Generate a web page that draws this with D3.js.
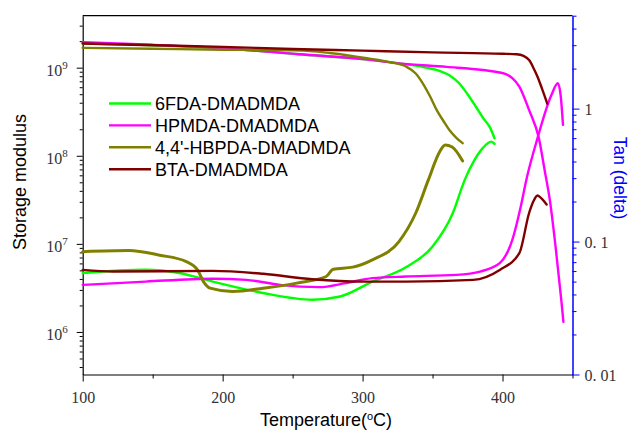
<!DOCTYPE html>
<html>
<head>
<meta charset="utf-8">
<script src="https://cdn.jsdelivr.net/npm/d3@7"></script>
<style>
  body { margin: 0; background: #fff; }
  .tick text { font-family: "Liberation Serif", serif; font-size: 16px; fill: #333; }
</style>
</head>
<body>
<div id="chart"></div>
<script>
const width = 631;
const height = 433;

// series names and colours (legend order)
const names = ['6FDA-DMADMDA', 'HPMDA-DMADMDA', "4,4'-HBPDA-DMADMDA", 'BTA-DMADMDA'];
const colors = ['#00ff00', '#ff00ff', '#808000', '#800000'];

// storage modulus (Pa) vs temperature (°C)
const modulus6FDA = [[100,1.88e9],[150,1.8e9],[200,1.66e9],[255,1.42e9],[300,1.25e9],[326,1.12e9],[340,1.04e9],[355,9.2e8],[362,8.2e8],[369,6.65e8],[375,5e8],[381,3.6e8],[386,2.7e8],[391,2.1e8],[394.3,1.58e8]];
const modulusHPMDA = [[100,1.95e9],[150,1.82e9],[200,1.66e9],[255,1.42e9],[300,1.25e9],[326,1.12e9],[360,1.02e9],[386,9.4e8],[402,8.5e8],[407,7.6e8],[412,6.1e8],[419,3.3e8],[426,1.58e8],[430,7e7],[434,3.0e7],[438,9e6],[442,2.3e6],[443.5,1.3e6]];
const modulusHBPDA = [[100,1.68e9],[150,1.64e9],[200,1.6e9],[250,1.57e9],[265,1.53e9],[278,1.46e9],[303,1.28e9],[320,1.15e9],[331,1.03e9],[338,8.6e8],[343,6.65e8],[348,4.8e8],[353,3.3e8],[358,2.45e8],[362,1.96e8],[367,1.6e8],[371.5,1.39e8]];
const modulusBTA = [[100,1.88e9],[150,1.8e9],[200,1.72e9],[250,1.63e9],[300,1.56e9],[350,1.49e9],[400,1.44e9],[410,1.42e9],[415,1.36e9],[419,1.22e9],[422,1.0e9],[425,7.9e8],[428,5.9e8],[432,3.9e8]];

// tan(delta) vs temperature (°C)
const tan6FDA = [[100,0.058],[145,0.0613],[169,0.058],[193,0.05],[229,0.041],[264,0.0365],[284,0.0386],[307,0.05],[331,0.0642],[350,0.0917],[364.5,0.164],[373,0.291],[380,0.411],[386,0.507],[392,0.565],[394.3,0.543]];
const tanHPMDA = [[100,0.0472],[145,0.05],[193,0.0525],[217,0.0515],[241,0.0472],[269,0.0454],[288,0.0487],[307,0.0531],[331,0.0546],[367,0.0562],[384,0.0595],[398,0.0688],[407,0.103],[413,0.183],[417,0.291],[425,0.6],[435,1.27],[439.5,1.55],[441.5,1.27],[443.2,0.754]];
const tanHBPDA = [[100,0.084],[133,0.0856],[155,0.079],[174,0.0707],[182,0.0613],[187,0.0487],[191,0.0446],[207,0.0421],[229,0.0446],[253,0.0487],[274,0.0546],[279,0.062],[293,0.0642],[307,0.0728],[326,0.1],[338,0.164],[347,0.291],[355,0.472],[359,0.533],[364,0.515],[371.5,0.404]];
const tanBTA = [[100,0.0612],[122,0.0595],[193,0.0602],[229,0.0572],[264,0.0521],[300,0.05],[331,0.05],[379,0.0515],[398,0.0612],[412,0.0818],[419,0.164],[422,0.2],[425,0.222],[428,0.21],[431.5,0.19]];

const xTicks = [100, 200, 300, 400];
const xMinor = [150, 250, 350, 450];
const leftTicks = [1e6, 1e7, 1e8, 1e9];
const rightTicks = [0.01, 0.1, 1];
const rightLabels = ['0. 01', '0. 1', '1'];

const modulusSeries = [modulus6FDA, modulusHPMDA, modulusHBPDA, modulusBTA];
const tanSeries = [tan6FDA, tanHPMDA, tanHBPDA, tanBTA];

const plot = { left: 82.7, right: 572.5, top: 15.7, bottom: 374.5 };

const svg = d3.select('#chart')
  .append('svg')
  .attr('width', width)
  .attr('height', height);

const x = d3.scaleLinear().domain([100, 450]).range([plot.left, plot.right]);
const yL = d3.scaleLog().domain([3.29e5, 3.89e9]).range([plot.bottom, plot.top]);
const yR = d3.scaleLog().domain([0.01, 5]).range([plot.bottom, plot.top]);

// minor tick values for log axes
function logMinors(scale) {
  const [a, b] = scale.domain();
  const out = [];
  for (let e = Math.floor(Math.log10(a)); e <= Math.ceil(Math.log10(b)); e++) {
    for (let m = 2; m <= 9; m++) {
      const v = m * Math.pow(10, e);
      if (v >= a * 0.999 && v <= b * 1.001) out.push(v);
    }
  }
  return out;
}

// top frame line
svg.append('line')
  .attr('x1', plot.left).attr('x2', plot.right)
  .attr('y1', plot.top).attr('y2', plot.top)
  .attr('stroke', '#000').attr('stroke-width', 1.2);

// bottom axis
const gx = svg.append('g').attr('transform', `translate(0,${plot.bottom})`);
gx.call(d3.axisBottom(x).tickValues(xTicks).tickSize(7).tickSizeOuter(0).tickFormat(d3.format('d')));
gx.selectAll('.tick text').attr('y', 17);
svg.append('g').attr('transform', `translate(0,${plot.bottom})`)
  .call(d3.axisBottom(x).tickValues(xMinor).tickSize(4).tickFormat(''))
  .call(g => g.select('.domain').remove());

// left axis
const gl = svg.append('g').attr('transform', `translate(${plot.left},0)`);
gl.call(d3.axisLeft(yL).tickValues(leftTicks).tickSize(6).tickSizeOuter(0).tickFormat(''));
gl.selectAll('.tick')
  .append('text')
  .attr('x', -15)
  .attr('y', 8)
  .attr('text-anchor', 'end')
  .each(function (d) {
    const t = d3.select(this);
    t.append('tspan').text('10');
    t.append('tspan').attr('dy', -7).style('font-size', '11px').text(Math.round(Math.log10(d)));
  });
svg.append('g').attr('transform', `translate(${plot.left},0)`)
  .call(d3.axisLeft(yL).tickValues(logMinors(yL)).tickSize(3).tickFormat(''))
  .call(g => g.select('.domain').remove());

// right axis (blue)
const gr = svg.append('g').attr('transform', `translate(${plot.right},0)`);
gr.call(d3.axisRight(yR).tickValues(rightTicks).tickSize(7).tickSizeOuter(0)
  .tickFormat((d, i) => rightLabels[i]));
gr.selectAll('.tick text').attr('x', 12).attr('dy', '0.38em');
svg.append('g').attr('transform', `translate(${plot.right},0)`)
  .call(d3.axisRight(yR).tickValues(logMinors(yR)).tickSize(4).tickFormat(''))
  .call(g => g.select('.domain').remove())
  .selectAll('line').attr('stroke', '#0000ff');
gr.select('.domain').attr('stroke', '#0000ff').attr('stroke-width', 1.5);
gr.selectAll('.tick line').attr('stroke', '#0000ff');

svg.selectAll('.domain').filter(function () { return this.parentNode !== gr.node(); })
  .attr('stroke-width', 1.2);

// curves
const lineL = d3.line().x(d => x(d[0])).y(d => yL(d[1])).curve(d3.curveMonotoneX);
const lineR = d3.line().x(d => x(d[0])).y(d => yR(d[1])).curve(d3.curveMonotoneX);

const curves = svg.append('g').attr('fill', 'none').attr('stroke-width', 2.4)
  .attr('stroke-linejoin', 'round').attr('stroke-linecap', 'round');

tanSeries.forEach((s, i) => {
  curves.append('path').attr('d', lineR(s)).attr('stroke', colors[i])
    .attr('stroke-width', i === 2 ? 3 : 2.4);
});
modulusSeries.forEach((s, i) => {
  curves.append('path').attr('d', lineL(s)).attr('stroke', colors[i]);
});

// legend
const legend = svg.append('g');
names.forEach((n, i) => {
  const ly = 103.5 + i * 21.9;
  legend.append('line')
    .attr('x1', 109).attr('x2', 151).attr('y1', ly).attr('y2', ly)
    .attr('stroke', colors[i]).attr('stroke-width', 2.4);
  legend.append('text')
    .attr('x', 155).attr('y', ly + 6.5)
    .style('font-family', '"Liberation Sans", Arial, sans-serif')
    .style('font-size', '18px')
    .text(n);
});

// axis titles
svg.append('text')
  .attr('transform', `translate(26,182) rotate(-90)`)
  .attr('text-anchor', 'middle')
  .style('font-family', '"Liberation Sans", Arial, sans-serif')
  .style('font-size', '18px')
  .text('Storage modulus');

const xt = svg.append('text')
  .attr('x', 326).attr('y', 426)
  .attr('text-anchor', 'middle')
  .style('font-family', '"Liberation Sans", Arial, sans-serif')
  .style('font-size', '18px');
xt.append('tspan').text('Temperature(');
xt.append('tspan').attr('dy', -6).style('font-size', '11px').text('o');
xt.append('tspan').attr('dy', 6).text('C)');

svg.append('text')
  .attr('transform', `translate(614,178) rotate(90)`)
  .attr('text-anchor', 'middle')
  .attr('fill', '#0000ff')
  .style('font-family', '"Liberation Sans", Arial, sans-serif')
  .style('font-size', '17.5px')
  .text('Tan (delta)');
</script>
</body>
</html>
